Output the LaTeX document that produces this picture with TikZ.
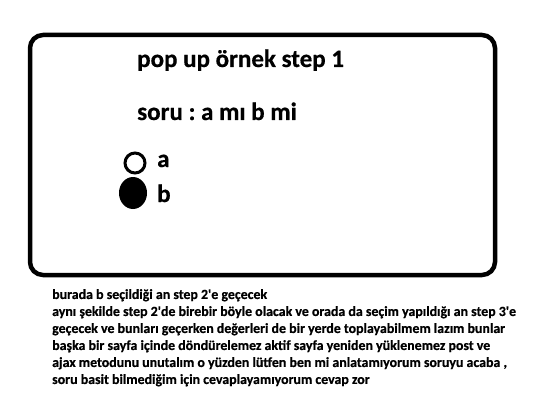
\documentclass[tikz,border=0pt]{standalone}
\usepackage{fontspec}
\setmainfont{Carlito}[BoldFont={Carlito Bold},BoldFeatures={FakeBold=0.5},Ligatures=TeXOff]
\frenchspacing
\begin{document}
\begin{tikzpicture}[x=1pt,y=-1pt,
  title/.style={anchor=base west,inner sep=0pt,font=\bfseries\fontsize{25}{28}\selectfont},
  body/.style={anchor=north west,inner sep=0pt,align=left,font=\bfseries\fontsize{13.9}{17}\selectfont}]
\useasboundingbox (0,0) rectangle (559,401);
\draw[line width=4.5pt,rounded corners=13pt] (30,35) rectangle (495,275);
\node[title] (t1) at (137,67) {pop up örnek step 1};
\node[title] (t2) at (137,120) {soru : a mı b mi};
\draw[line width=3pt] (135,163) circle (10);
\fill (133,193) ellipse (14 and 16);
\node[title] (la) at (157,167) {a};
\node[title] (lb) at (157,202) {b};
\node[body] (txt) at (52,289) {burada b seçildiği an step 2'e geçecek\\
aynı şekilde step 2'de birebir böyle olacak ve orada da seçim yapıldığı an step 3'e\\
geçecek ve bunları geçerken değerleri de bir yerde toplayabilmem lazım bunlar\\
başka bir sayfa içinde döndürelemez aktif sayfa yeniden yüklenemez post ve\\
ajax metodunu unutalım o yüzden lütfen ben mi anlatamıyorum soruyu acaba ,\\
soru basit bilmediğim için cevaplayamıyorum cevap zor};
\end{tikzpicture}
\end{document}
